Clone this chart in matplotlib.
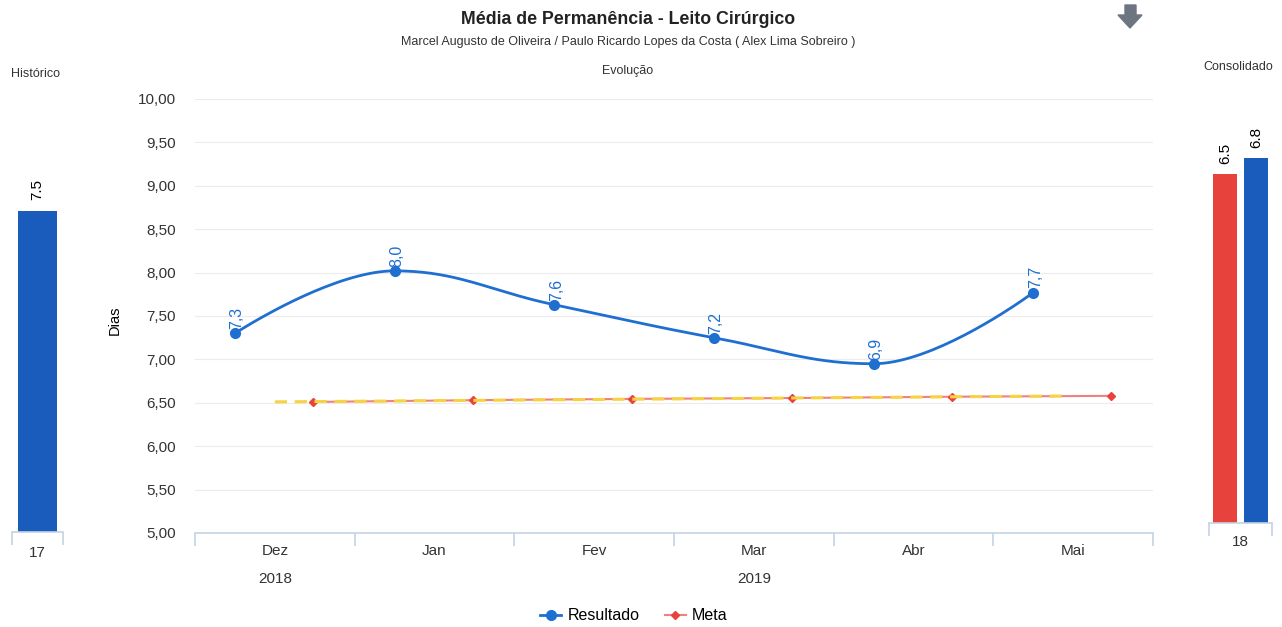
import matplotlib
matplotlib.use("Agg")
import matplotlib.pyplot as plt
from matplotlib.lines import Line2D
from matplotlib.patches import Polygon
import numpy as np

plt.rcParams['font.family'] = ['Liberation Sans', 'DejaVu Sans']

# dados
meses = ['Dez', 'Jan', 'Fev', 'Mar', 'Abr', 'Mai']
anos = [('2018', 0, 0), ('2019', 1, 5)]
resultado = [7.30, 8.02, 7.63, 7.25, 6.95, 7.77]
rotulos_res = ['7,3', '8,0', '7,6', '7,2', '6,9', '7,7']
meta = [6.51, 6.53, 6.545, 6.555, 6.57, 6.58]

hist_cat = ['17']
hist_val = [7.5]
cons_cat = ['18']
cons_meta = [6.5]
cons_res = [6.8]

AZUL = '#1f6fd0'
AZUL_BARRA = '#1a5cbc'
VERMELHO = '#e8423c'
EIXO = '#c5d3e2'
TXT = '#333333'

W, H = 1282, 627


def fx(px):
    return px / W


def fy(py):
    return 1 - py / H


def spline(xs, ys, n=40):
    # suavizacao estilo highcharts
    s, d = 1.5, 2.5
    N = len(xs)
    lc = [(xs[i], ys[i]) for i in range(N)]
    rc = [(xs[i], ys[i]) for i in range(N)]
    for i in range(1, N - 1):
        x, y = xs[i], ys[i]
        lx, ly = xs[i - 1], ys[i - 1]
        nx, ny = xs[i + 1], ys[i + 1]
        lcx, lcy = (s * x + lx) / d, (s * y + ly) / d
        rcx, rcy = (s * x + nx) / d, (s * y + ny) / d
        corr = ((rcy - lcy) * (rcx - x)) / (rcx - lcx) + y - rcy
        lcy += corr
        rcy += corr
        if lcy > max(ly, y):
            lcy = max(ly, y); rcy = 2 * y - lcy
        elif lcy < min(ly, y):
            lcy = min(ly, y); rcy = 2 * y - lcy
        if rcy > max(ny, y):
            rcy = max(ny, y); lcy = 2 * y - rcy
        elif rcy < min(ny, y):
            rcy = min(ny, y); lcy = 2 * y - rcy
        lc[i] = (lcx, lcy)
        rc[i] = (rcx, rcy)
    t = np.linspace(0, 1, n)[:, None]
    pts = []
    for i in range(N - 1):
        p0 = np.array([xs[i], ys[i]]); p1 = np.array(rc[i])
        p2 = np.array(lc[i + 1]); p3 = np.array([xs[i + 1], ys[i + 1]])
        b = (1 - t) ** 3 * p0 + 3 * (1 - t) ** 2 * t * p1 + 3 * (1 - t) * t ** 2 * p2 + t ** 3 * p3
        pts.append(b if i == 0 else b[1:])
    pts = np.vstack(pts)
    return pts[:, 0], pts[:, 1]


fig = plt.figure(figsize=(W / 100, H / 100), dpi=100)

#%% grafico principal
ax = fig.add_axes([fx(195), fy(533), fx(1153) - fx(195), fy(99) - fy(533)])
x = np.arange(len(meses))
xr = x - 0.25
xm = x + 0.24

ax.set_ylim(5, 10)
ax.set_xlim(-0.5, len(meses) - 0.5)
ax.set_yticks(np.arange(5, 10.01, 0.5))
ax.set_yticklabels([f'{v:.2f}'.replace('.', ',') for v in np.arange(5, 10.01, 0.5)],
                   fontsize=11, color=TXT)
ax.grid(axis='y', color='#ececec', lw=0.8)
ax.set_axisbelow(True)
for sp in ['top', 'right', 'left']:
    ax.spines[sp].set_visible(False)
ax.spines['bottom'].set_color(EIXO)
ax.spines['bottom'].set_linewidth(1.2)
ax.tick_params(axis='y', length=0, pad=14)
ax.set_xticks(x)
ax.set_xticklabels(meses, fontsize=11, color=TXT)
ax.tick_params(axis='x', which='major', length=0, pad=8)
ax.set_xticks(np.arange(-0.5, len(meses)), minor=True)
ax.tick_params(axis='x', which='minor', length=9, color=EIXO, width=1.2)

# meta + tendencia
ax.plot(xm, meta, color='#f08080', lw=1.5, marker='D', ms=4.5,
        mfc=VERMELHO, mec=VERMELHO, zorder=3)
coef = np.polyfit(xm, meta, 1)
xt = np.array([0, len(meses) - 1.05])
ax.plot(xt, np.polyval(coef, xt), color='#f5d442', lw=2.2, ls=(0, (4, 2.5)), zorder=4)

# resultado
sx, sy = spline(list(xr), resultado)
ax.plot(sx, sy, color=AZUL, lw=2, zorder=5)
ax.plot(xr, resultado, 'o', color=AZUL, ms=7, zorder=6)
for xi, yi, lab in zip(xr, resultado, rotulos_res):
    ax.annotate(lab, (xi, yi), xytext=(1.5, 3), textcoords='offset points',
                rotation=90, ha='center', va='bottom', fontsize=11.5, color=AZUL, zorder=7)

for ano, i0, i1 in anos:
    ax.text((i0 + i1) / 2, -0.106, ano, transform=ax.get_xaxis_transform(),
            ha='center', va='center', fontsize=11, color=TXT)

fig.text(fx(115), fy(320), 'Dias', rotation=90, ha='center', va='center',
         fontsize=10.5, color='black')

#%% historico
axh = fig.add_axes([fx(12), fy(532), fx(63) - fx(12), fy(104) - fy(532)])
axh.bar(range(len(hist_cat)), hist_val, width=0.78, color=AZUL_BARRA)
axh.set_ylim(0, 10)
axh.set_xlim(-0.5, 0.5)
for v, xi in zip(hist_val, range(len(hist_cat))):
    axh.annotate(f'{v:.1f}', (xi, v), xytext=(0, 8), textcoords='offset points',
                 rotation=90, ha='center', va='bottom', fontsize=11, color='black')
axh.set_yticks([])
axh.set_xticks(range(len(hist_cat)))
axh.set_xticklabels(hist_cat, fontsize=11, color=TXT)
axh.tick_params(axis='x', which='major', length=0, pad=10)
axh.set_xticks([-0.5, 0.5], minor=True)
axh.tick_params(axis='x', which='minor', length=9, color=EIXO, width=1.2)
for sp in ['top', 'right', 'left']:
    axh.spines[sp].set_visible(False)
axh.spines['bottom'].set_color(EIXO)
axh.spines['bottom'].set_linewidth(1.2)

#%% consolidado
axc = fig.add_axes([fx(1209), fy(523), fx(1272) - fx(1209), fy(93) - fy(523)])
xc = np.arange(len(cons_cat))
axc.bar(xc - 0.245, cons_meta, width=0.39, color=VERMELHO)
axc.bar(xc + 0.245, cons_res, width=0.39, color=AZUL_BARRA)
axc.set_ylim(0, 8)
axc.set_xlim(-0.5, 0.5)
for xi, v in zip(list(xc - 0.245) + list(xc + 0.245), cons_meta + cons_res):
    axc.annotate(f'{v:.1f}', (xi, v), xytext=(0, 7), textcoords='offset points',
                 rotation=90, ha='center', va='bottom', fontsize=11, color='black')
axc.set_yticks([])
axc.set_xticks(xc)
axc.set_xticklabels(cons_cat, fontsize=11, color=TXT)
axc.tick_params(axis='x', which='major', length=0, pad=9)
axc.set_xticks([-0.5, 0.5], minor=True)
axc.tick_params(axis='x', which='minor', length=9, color=EIXO, width=1.2)
for sp in ['top', 'right', 'left']:
    axc.spines[sp].set_visible(False)
axc.spines['bottom'].set_color(EIXO)
axc.spines['bottom'].set_linewidth(1.2)

#%% textos
fig.text(fx(628), fy(19), 'Média de Permanência - Leito Cirúrgico', ha='center',
         va='center', fontsize=12.8, fontweight='bold', color='#222222')
fig.text(fx(628), fy(42), 'Marcel Augusto de Oliveira / Paulo Ricardo Lopes da Costa ( Alex Lima Sobreiro )',
         ha='center', va='center', fontsize=9, color=TXT)
fig.text(fx(628), fy(71), 'Evolução', ha='center', va='center', fontsize=9, color=TXT)
fig.text(fx(35), fy(74), 'Histórico', ha='center', va='center', fontsize=9, color=TXT)
fig.text(fx(1238), fy(67), 'Consolidado', ha='center', va='center', fontsize=9, color=TXT)

# seta
seta = [(1125, 5), (1136, 5), (1136, 15), (1142, 15), (1130, 28), (1118, 15), (1125, 15)]
fig.patches.append(Polygon([(fx(a), fy(b)) for a, b in seta], closed=True,
                           transform=fig.transFigure, color='#6d7580'))

# legenda
handles = [Line2D([], [], color=AZUL, marker='o', ms=7, lw=2),
           Line2D([], [], color='#f08080', marker='D', ms=4.5, mfc=VERMELHO, mec=VERMELHO, lw=1.5)]
fig.legend(handles, ['Resultado', 'Meta'], loc='center', bbox_to_anchor=(fx(634), fy(616)),
           ncol=2, frameon=False, fontsize=11.5, handlelength=1.3, handletextpad=0.4,
           columnspacing=1.6)

fig.savefig('out.png', dpi=100)
